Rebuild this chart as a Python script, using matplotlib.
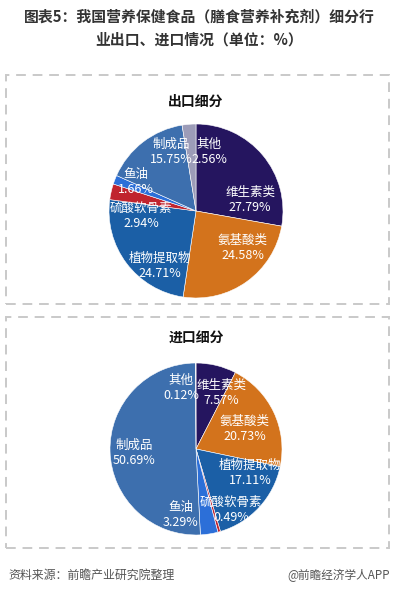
import matplotlib.pyplot as plt
from matplotlib.patches import Rectangle

plt.rcParams['font.family'] = ['Noto Sans CJK SC', 'DejaVu Sans']

W, H = 399, 592

categories = ['维生素类', '氨基酸类', '植物提取物', '硫酸软骨素', '鱼油', '制成品', '其他']
export_share = [27.79, 24.58, 24.71, 2.94, 1.66, 15.75, 2.56]
import_share = [7.57, 20.73, 17.11, 0.49, 3.29, 50.69, 0.12]

colors = ['#25155f', '#d3731c', '#1b5fa6', '#c0242e', '#2c6fd8', '#3d6fae', '#9c9cb8']

# label anchor points (pixels, top-left origin) for each category
export_label_px = [(250, 200), (243, 248), (160, 266), (141, 216), (136, 182), (171, 152), (209, 152)]
import_label_px = [(221, 393), (245, 429), (250, 473), (231, 510), (181, 515), (134, 453), (181, 388)]


def px_rect(x0, y0, x1, y1):
    return [x0 / W, 1 - y1 / H, (x1 - x0) / W, (y1 - y0) / H]


def dashed_box(fig, x0, y0, x1, y1):
    fig.add_artist(Rectangle((x0 / W, 1 - y1 / H), (x1 - x0) / W, (y1 - y0) / H,
                             transform=fig.transFigure, fill=False,
                             edgecolor='#c9c9c9', linewidth=1.4,
                             linestyle=(0, (5, 3.5))))


def draw_pie(fig, values, cx, cy, r, title, title_y, label_px):
    ax = fig.add_axes(px_rect(cx - r, cy - r, cx + r, cy + r))
    ax.pie(values, colors=colors, startangle=90, counterclock=False,
           radius=1, wedgeprops=dict(edgecolor='white', linewidth=0.4))
    ax.set_xlim(-1, 1)
    ax.set_ylim(-1, 1)
    ax.set_aspect('equal')
    ax.axis('off')
    fig.text(cx / W, 1 - title_y / H, title, ha='center', va='center',
             fontsize=10, fontweight='bold', color='#111111')
    for name, val, (x, y) in zip(categories, values, label_px):
        fig.text(x / W, 1 - y / H, f'{name}\n{val:.2f}%', ha='center', va='center',
                 fontsize=9, color='white', linespacing=1.25)


fig = plt.figure(figsize=(W / 100, H / 100), dpi=100)
fig.patch.set_facecolor('white')

fig.text(0.5, 1 - 17 / H, '图表5：我国营养保健食品（膳食营养补充剂）细分行',
         ha='center', va='center', fontsize=10.7, fontweight='bold', color='#333333')
fig.text(0.5, 1 - 40 / H, '业出口、进口情况（单位：%）',
         ha='center', va='center', fontsize=10.7, fontweight='bold', color='#333333')

dashed_box(fig, 6, 75, 389, 304)
dashed_box(fig, 6, 317, 389, 548)

draw_pie(fig, export_share, 196, 211, 87, '出口细分', 102, export_label_px)
draw_pie(fig, import_share, 196, 449, 86, '进口细分', 339, import_label_px)

fig.text(8 / W, 1 - 575 / H, '资料来源：前瞻产业研究院整理', ha='left', va='center',
         fontsize=8.6, color='#555555', style='italic')
fig.text(390 / W, 1 - 575 / H, '@前瞻经济学人APP', ha='right', va='center',
         fontsize=8.4, color='#555555')

fig.savefig('out.png', dpi=100, facecolor='white')
